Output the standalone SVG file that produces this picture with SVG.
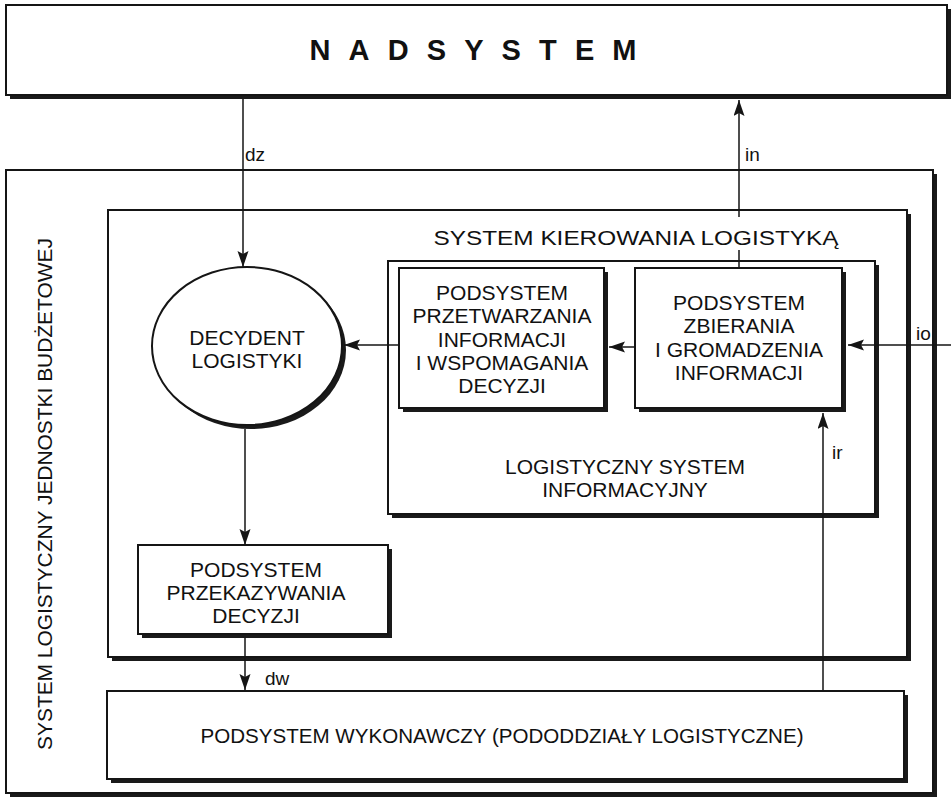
<svg xmlns="http://www.w3.org/2000/svg" width="951" height="798" viewBox="0 0 951 798">
  <style>
    .box { fill: #ffffff; stroke: #151515; stroke-width: 2; }
    .shadow { fill: #1a1a1a; }
    .lbl { font-family: "Liberation Sans", Arial, sans-serif; font-size: 21px; fill: #111; text-anchor: middle; }
    .tag { font-family: "Liberation Sans", Arial, sans-serif; font-size: 19px; fill: #111; }
    .wire { fill: none; stroke: #151515; stroke-width: 1.5; }
  </style>
  <defs>
    <marker id="arrow" markerUnits="userSpaceOnUse" markerWidth="17" markerHeight="12" refX="16" refY="5.5" orient="auto">
      <path d="M0,0 L16,5.5 L0,11 L3,5.5 z" fill="#151515"/>
    </marker>
  </defs>
  <rect width="951" height="798" fill="#ffffff"/>

  <!-- top-level supersystem -->
  <g id="nadsystem">
    <rect class="shadow" x="10" y="9" width="941" height="90"/>
    <rect class="box" x="6" y="5" width="941" height="90"/>
    <text x="473" y="60" font-family="Liberation Sans, Arial, sans-serif" font-size="29" font-weight="bold" fill="#111" text-anchor="middle" textLength="327" lengthAdjust="spacing">NADSYSTEM</text>
  </g>

  <!-- outer frame: logistics system of the budget unit -->
  <g id="system-logistyczny">
    <rect class="shadow" x="10" y="174" width="927" height="623"/>
    <rect class="box" x="6" y="170" width="927" height="623"/>
    <text class="lbl" transform="translate(52,494) rotate(-90)" font-size="20" textLength="512" lengthAdjust="spacing">SYSTEM LOGISTYCZNY JEDNOSTKI BUDŻETOWEJ</text>
  </g>

  <!-- logistics management system -->
  <g id="system-kierowania">
    <rect class="shadow" x="112" y="214" width="799" height="447"/>
    <rect class="box" x="108" y="210" width="799" height="447"/>
    <text class="lbl" x="636" y="245" font-size="21" textLength="405" lengthAdjust="spacingAndGlyphs">SYSTEM KIEROWANIA LOGISTYKĄ</text>
  </g>

  <!-- logistics information system -->
  <g id="lsi">
    <rect class="shadow" x="392" y="265" width="487" height="253"/>
    <rect class="box" x="388" y="261" width="487" height="253"/>
    <text class="lbl" x="625" y="474">LOGISTYCZNY SYSTEM</text>
    <text class="lbl" x="625" y="497">INFORMACYJNY</text>
  </g>

  <g id="przetwarzanie">
    <rect class="shadow" x="403" y="272" width="205" height="140"/>
    <rect class="box" x="399" y="268" width="205" height="140"/>
    <text class="lbl" x="502" y="300">PODSYSTEM</text>
    <text class="lbl" x="502" y="323">PRZETWARZANIA</text>
    <text class="lbl" x="502" y="347">INFORMACJI</text>
    <text class="lbl" x="502" y="370">I WSPOMAGANIA</text>
    <text class="lbl" x="502" y="393">DECYZJI</text>
  </g>

  <g id="zbieranie">
    <rect class="shadow" x="639" y="272" width="207" height="140"/>
    <rect class="box" x="635" y="268" width="207" height="140"/>
    <text class="lbl" x="739" y="310">PODSYSTEM</text>
    <text class="lbl" x="739" y="333">ZBIERANIA</text>
    <text class="lbl" x="739" y="357">I GROMADZENIA</text>
    <text class="lbl" x="739" y="380">INFORMACJI</text>
  </g>

  <g id="decydent">
    <ellipse class="shadow" cx="251" cy="350" rx="95" ry="79"/>
    <ellipse class="box" cx="247" cy="346" rx="95" ry="79"/>
    <text class="lbl" x="247" y="345">DECYDENT</text>
    <text class="lbl" x="247" y="368">LOGISTYKI</text>
  </g>

  <g id="przekazywanie">
    <rect class="shadow" x="142" y="549" width="250" height="89"/>
    <rect class="box" x="138" y="545" width="250" height="89"/>
    <text class="lbl" x="256" y="577">PODSYSTEM</text>
    <text class="lbl" x="256" y="600">PRZEKAZYWANIA</text>
    <text class="lbl" x="256" y="623">DECYZJI</text>
  </g>

  <g id="wykonawczy">
    <rect class="shadow" x="111" y="695" width="797" height="88"/>
    <rect class="box" x="107" y="691" width="797" height="88"/>
    <text class="lbl" x="502" y="743" textLength="603" lengthAdjust="spacingAndGlyphs">PODSYSTEM WYKONAWCZY (PODODDZIAŁY LOGISTYCZNE)</text>
  </g>

  <!-- information and decision flows -->
  <g id="connectors">
    <path class="wire" d="M243 99 V267" marker-end="url(#arrow)"/>
    <path class="wire" d="M739 268 V250 M739 217 V100" marker-end="url(#arrow)"/>
    <path class="wire" d="M399 345 H344" marker-end="url(#arrow)"/>
    <path class="wire" d="M635 347 H609" marker-end="url(#arrow)"/>
    <path class="wire" d="M951 345 H848" marker-end="url(#arrow)"/>
    <path class="wire" d="M245 429 V545" marker-end="url(#arrow)"/>
    <path class="wire" d="M245 638 V690" marker-end="url(#arrow)"/>
    <path class="wire" d="M823 691 V413" marker-end="url(#arrow)"/>
    <text class="tag" x="245" y="161">dz</text>
    <text class="tag" x="745" y="161">in</text>
    <text class="tag" x="916" y="340">io</text>
    <text class="tag" x="832" y="459">ir</text>
    <text class="tag" x="265" y="685">dw</text>
  </g>
</svg>
